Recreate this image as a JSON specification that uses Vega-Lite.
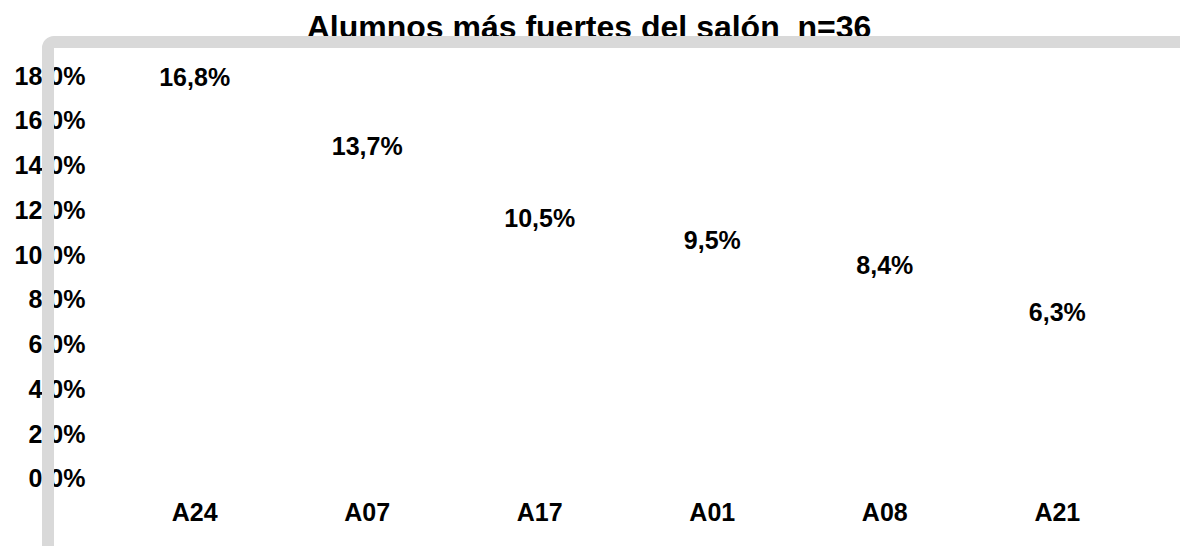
{
  "$schema": "https://vega.github.io/schema/vega-lite/v6.json",
  "autosize": {"type": "none"},
  "padding": {"left": 48, "top": 42, "right": -24, "bottom": -14},
  "width": 1156,
  "height": 518,
  "title": {
    "text": "Alumnos más fuertes del salón \u00a0n=36",
    "font": "Liberation Sans",
    "fontSize": 32,
    "fontWeight": "bold",
    "color": "#000000",
    "anchor": "middle",
    "baseline": "alphabetic",
    "offset": 3,
    "dy": 31,
    "dx": -37
  },
  "data": {
    "values": [
      {"alumno": "A24", "pct": 0.168},
      {"alumno": "A07", "pct": 0.137},
      {"alumno": "A17", "pct": 0.105},
      {"alumno": "A01", "pct": 0.095},
      {"alumno": "A08", "pct": 0.084},
      {"alumno": "A21", "pct": 0.063}
    ]
  },
  "encoding": {
    "x": {
      "field": "alumno",
      "type": "nominal",
      "sort": null,
      "scale": {"paddingInner": 0.3, "paddingOuter": 0.5},
      "axis": {
        "title": null,
        "orient": "bottom",
        "offset": -48,
        "domain": false,
        "ticks": false,
        "labelAngle": 0,
        "labelBaseline": "middle",
        "labelPadding": 0,
        "labelFont": "Liberation Sans",
        "labelFontSize": 25,
        "labelFontWeight": "bold",
        "labelColor": "#000000"
      }
    },
    "y": {
      "field": "pct",
      "type": "quantitative",
      "scale": {"domain": [-0.0362, 0.1952], "nice": false, "zero": false},
      "axis": {
        "title": null,
        "values": [0, 0.02, 0.04, 0.06, 0.08, 0.1, 0.12, 0.14, 0.16, 0.18],
        "format": ".1%",
        "domain": false,
        "ticks": false,
        "grid": false,
        "labelAlign": "right",
        "labelPadding": -37,
        "labelFont": "Liberation Sans",
        "labelFontSize": 25,
        "labelFontWeight": "bold",
        "labelColor": "#000000"
      }
    }
  },
  "layer": [
    {
      "mark": {"type": "bar", "fill": "#ffffff"},
      "encoding": {
        "y2": {"datum": 0}
      }
    },
    {
      "mark": {
        "type": "text",
        "font": "Liberation Sans",
        "fontSize": 25,
        "fontWeight": "bold",
        "color": "#000000",
        "baseline": "alphabetic",
        "dy": -17
      },
      "encoding": {
        "text": {"field": "pct", "type": "quantitative", "format": ".1%"}
      }
    }
  ],
  "config": {
    "locale": {
      "number": {"decimal": ",", "thousands": ".", "grouping": [3], "currency": ["", " €"]}
    },
    "view": {"stroke": "#d9d9d9", "strokeWidth": 12, "cornerRadius": 6, "fill": "#ffffff"},
    "style": {"cell": {"strokeForeground": true}},
    "background": "#ffffff"
  }
}
